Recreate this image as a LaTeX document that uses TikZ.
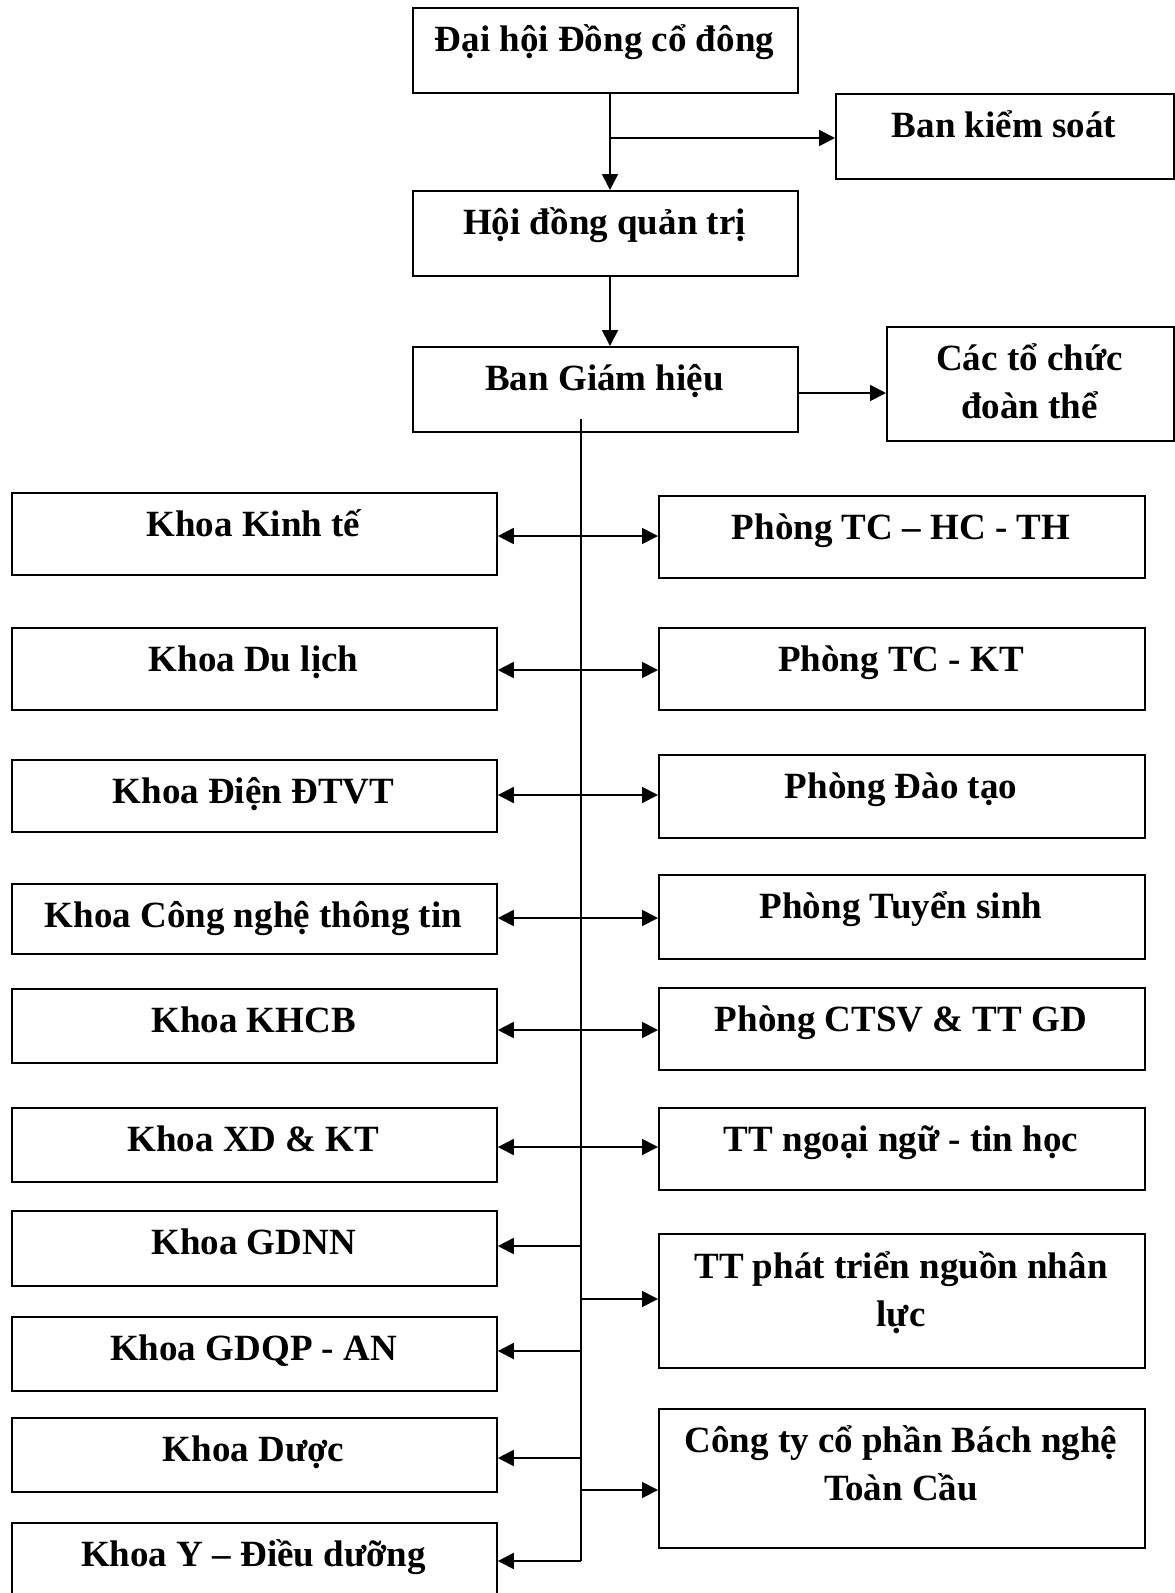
\documentclass[tikz,border=0pt]{standalone}
\usepackage{fontspec}
\setmainfont{Liberation Serif}
\usetikzlibrary{arrows.meta}
% \orgbox[baseline of last line below top]{name}{left}{top}{right}{bottom}{text}
\newcommand{\orgbox}[7][44]{%
  \node[unit box, anchor=north west, minimum width={#5-#3}, minimum height={#6-#4}] (#2) at (#3,#4) {};
  \node[unit text] (#2-t) at ({(#3+#5)/2},{#4+#1}) {#7};
}
\begin{document}
\begin{tikzpicture}[x=1pt, y=-1pt,
  unit box/.style={draw, line width=1.8pt, inner sep=0pt},
  unit text/.style={anchor=base, align=center, inner sep=0pt, font=\fontsize{37}{48}\selectfont\bfseries},
  link/.style={line width=1.8pt},
  tip/.style={link, -{Triangle[length=16pt,width=16pt]}},
  twotip/.style={link, {Triangle[length=16pt,width=16pt]}-{Triangle[length=16pt,width=16pt]}}]
\clip (0,0) rectangle (1175,1593);

% upper management
\orgbox{dh}{412}{7}{797}{92}{Đại hội Đồng cổ đông}
\orgbox{bks}{835}{93}{1173}{178}{Ban kiểm soát}
\orgbox{hdqt}{412}{190}{797}{275}{Hội đồng quản trị}
\orgbox{bgh}{412}{346}{797}{431}{Ban Giám hiệu}
\orgbox[92]{ctc}{886}{326}{1173}{440}{Các tổ chức\\đoàn thể}

% faculties
\orgbox{kt}{11}{492}{496}{574}{Khoa Kinh tế}
\orgbox{dl}{11}{627}{496}{709}{Khoa Du lịch}
\orgbox{dien}{11}{759}{496}{831}{Khoa Điện ĐTVT}
\orgbox{cntt}{11}{883}{496}{953}{Khoa Công nghệ thông tin}
\orgbox{khcb}{11}{988}{496}{1062}{Khoa KHCB}
\orgbox{xd}{11}{1107}{496}{1181}{Khoa XD \& KT}
\orgbox{gdnn}{11}{1210}{496}{1285}{Khoa GDNN}
\orgbox{gdqp}{11}{1316}{496}{1390}{Khoa GDQP - AN}
\orgbox{duoc}{11}{1417}{496}{1491}{Khoa Dược}
\orgbox{ydd}{11}{1522}{496}{1625}{Khoa Y – Điều dưỡng}

% offices and centres
\orgbox{p1}{658}{495}{1144}{577}{Phòng TC – HC - TH}
\orgbox{p2}{658}{627}{1144}{709}{Phòng TC - KT}
\orgbox{p3}{658}{754}{1144}{837}{Phòng Đào tạo}
\orgbox{p4}{658}{874}{1144}{958}{Phòng Tuyển sinh}
\orgbox{p5}{658}{987}{1144}{1069}{Phòng CTSV \& TT GD}
\orgbox{p6}{658}{1107}{1144}{1189}{TT ngoại ngữ - tin học}
\orgbox[93]{p7}{658}{1233}{1144}{1367}{TT phát triển nguồn nhân\\lực}
\orgbox[92]{p8}{658}{1408}{1144}{1547}{Công ty cổ phần Bách nghệ\\Toàn Cầu}

% top chain
\coordinate (j1) at (610,138);
\draw[link] (j1 |- dh.south) -- (j1);
\draw[tip] (j1) -- (j1 |- hdqt.north);
\draw[tip] (j1) -- (j1 -| bks.west);
\draw[tip] (j1 |- hdqt.south) -- (j1 |- bgh.north);
\draw[tip] (bgh.east |- 0,393) -- (ctc.west |- 0,393);

% trunk
\coordinate (t0) at (581,419);
\coordinate (t1) at (581,1561);
\draw[link] (t0) -- (t1);

% two-way rows
\draw[twotip] (kt.east |- 0,536) -- (p1.west |- 0,536);
\draw[twotip] (dl.east |- 0,670) -- (p2.west |- 0,670);
\draw[twotip] (dien.east |- 0,795) -- (p3.west |- 0,795);
\draw[twotip] (cntt.east |- 0,918) -- (p4.west |- 0,918);
\draw[twotip] (khcb.east |- 0,1030) -- (p5.west |- 0,1030);
\draw[twotip] (xd.east |- 0,1147) -- (p6.west |- 0,1147);

% one-way branches
\draw[tip] (t0 |- 0,1246) -- (gdnn.east |- 0,1246);
\draw[tip] (t0 |- 0,1299) -- (p7.west |- 0,1299);
\draw[tip] (t0 |- 0,1351) -- (gdqp.east |- 0,1351);
\draw[tip] (t0 |- 0,1458) -- (duoc.east |- 0,1458);
\draw[tip] (t0 |- 0,1490) -- (p8.west |- 0,1490);
\draw[tip] (t1) -- (ydd.east |- t1);
\end{tikzpicture}
\end{document}
